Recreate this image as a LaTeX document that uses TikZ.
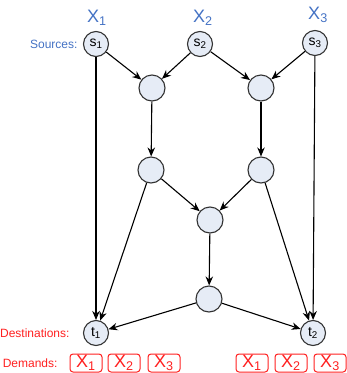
\documentclass[tikz,border=0pt]{standalone}
\usepackage{fontspec}
\setmainfont{Liberation Sans}
\usetikzlibrary{arrows.meta}

\definecolor{vertexfill}{RGB}{230,236,246}
\definecolor{srcblue}{RGB}{68,114,196}
\definecolor{dstred}{RGB}{255,32,32}

\tikzset{
  vertex/.style={circle,draw=black!80,fill=vertexfill,line width=1.1pt,
    minimum size=25pt,inner sep=0pt,font=\fontsize{14}{14}\selectfont},
  flow/.style={line width=1.1pt,-{Stealth[length=9pt,width=7.5pt]}},
  demandbox/.style={draw=dstred,rounded corners=3pt,line width=1pt,
    minimum width=32pt,minimum height=18pt,inner sep=0pt,text=dstred,
    font=\fontsize{18}{18}\selectfont},
  srclabel/.style={text=srcblue,font=\fontsize{18}{18}\selectfont},
  sidetext/.style={anchor=east,font=\fontsize{12}{12}\selectfont}
}

\begin{document}
\begin{tikzpicture}[x=1pt,y=-1pt]
    \useasboundingbox (0,0) rectangle (347,373);

	%% sources, inner vertices and sinks
	\node[vertex] (s1) at (96,44) {s\textsubscript{1}};
	\node[vertex] (s2) at (200,44) {s\textsubscript{2}};
	\node[vertex] (s3) at (315,43) {s\textsubscript{3}};
	\node[vertex,minimum size=26pt] (a) at (152,88) {};
	\node[vertex,minimum size=26pt] (b) at (261,88) {};
	\node[vertex,minimum size=26pt] (c) at (151,170) {};
	\node[vertex,minimum size=26pt] (d) at (261,170) {};
	\node[vertex,minimum size=26pt] (e) at (210,220) {};
	\node[vertex,minimum size=26pt] (f) at (209,299) {};
	\node[vertex] (t1) at (96,333) {t\textsubscript{1}};
	\node[vertex] (t2) at (313,333) {t\textsubscript{2}};

	%% supplies above the sources
	\node[srclabel] (x1) at (97,18) {X\textsubscript{1}};
	\node[srclabel] (x2) at (203,18) {X\textsubscript{2}};
	\node[srclabel] (x3) at (318,15) {X\textsubscript{3}};

	%% row captions
	\node[sidetext,text=srcblue] (src) at (81,44) {Sources:};
	\node[sidetext,text=dstred] (dst) at (73,333) {Destinations:};
	\node[sidetext,text=dstred] (dem) at (61,363) {Demands:};

	%% demands of t1 and t2
	\node[demandbox] (d11) at (86,363) {X\textsubscript{1}};
	\node[demandbox] (d12) at (124,363) {X\textsubscript{2}};
	\node[demandbox] (d13) at (164,363) {X\textsubscript{3}};
	\node[demandbox] (d21) at (252,363) {X\textsubscript{1}};
	\node[demandbox] (d22) at (291,363) {X\textsubscript{2}};
	\node[demandbox] (d23) at (330,363) {X\textsubscript{3}};

	%% arcs
	\draw[flow] (s1) -- (t1);
	\draw[flow] (s1) -- (a);
	\draw[flow] (s2) -- (a);
	\draw[flow] (s2) -- (b);
	\draw[flow] (s3) -- (b);
	\draw[flow] (s3) -- (t2);
	\draw[flow] (a) -- (c);
	\draw[flow] (b) -- (d);
	\draw[flow] (c) -- (e);
	\draw[flow] (d) -- (e);
	\draw[flow] (e) -- (f);
	\draw[flow] (c) -- (t1);
	\draw[flow] (d) -- (t2);
	\draw[flow] (f) -- (t1);
	\draw[flow] (f) -- (t2);
\end{tikzpicture}
\end{document}
